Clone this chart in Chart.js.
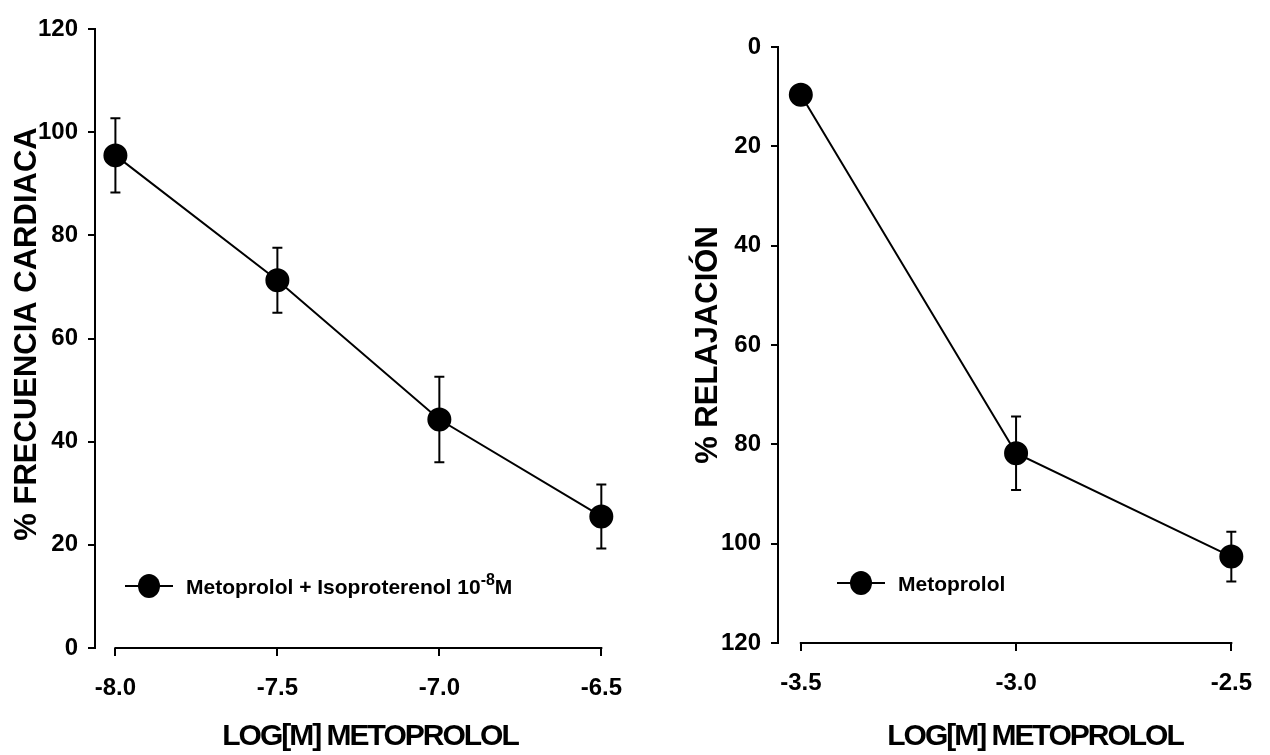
<!DOCTYPE html>
<html>
<head>
<meta charset="utf-8">
<script src="https://cdn.jsdelivr.net/npm/chart.js@4.4.1/dist/chart.umd.min.js"></script>
<style>
  html, body { margin: 0; padding: 0; background: #fff; }
  #wrap { position: relative; width: 1270px; height: 755px; overflow: hidden; }
  #c1 { position: absolute; left: 0; top: 0; }
  #c2 { position: absolute; left: 640px; top: 0; }
</style>
</head>
<body>
<div id="wrap">
  <canvas id="c1" width="640" height="755"></canvas>
  <canvas id="c2" width="630" height="755"></canvas>
</div>
<script>
// left panel: heart rate
var logDoseLeft = [-8.0, -7.5, -7.0, -6.5];
var frecuencia = [95.5, 71.3, 44.3, 25.5];
var frecuenciaSem = [7.2, 6.3, 8.3, 6.2];
var xTicksLeft = [-8.0, -7.5, -7.0, -6.5];
var yTicksLeft = [0, 20, 40, 60, 80, 100, 120];

// right panel: relaxation (reversed axis)
var logDoseRight = [-3.5, -3.0, -2.5];
var relajacion = [9.6, 81.8, 102.6];
var relajacionSem = [0, 7.4, 5.0];
var xTicksRight = [-3.5, -3.0, -2.5];
var yTicksRight = [0, 20, 40, 60, 80, 100, 120];

var FONT = '"Liberation Sans", Arial, sans-serif';

Chart.defaults.font.family = FONT;
Chart.defaults.color = '#000';

// error bars drawn from the sem arrays through the chart scales
var errorBars = {
  id: 'errorBars',
  beforeDatasetsDraw: function(chart) {
    var ctx = chart.ctx;
    var xs = chart.scales.x, ys = chart.scales.y;
    chart.data.datasets.forEach(function(ds) {
      if (!ds.sem) return;
      ctx.save();
      ctx.strokeStyle = '#000';
      ctx.lineWidth = 2;
      ds.data.forEach(function(p, i) {
        var e = ds.sem[i];
        if (!e) return;
        var px = xs.getPixelForValue(p.x);
        var top = ys.getPixelForValue(p.y + e);
        var bot = ys.getPixelForValue(p.y - e);
        ctx.beginPath();
        ctx.moveTo(px, top); ctx.lineTo(px, bot);
        ctx.moveTo(px - 5, top); ctx.lineTo(px + 5, top);
        ctx.moveTo(px - 5, bot); ctx.lineTo(px + 5, bot);
        ctx.stroke();
      });
      ctx.restore();
    });
  }
};

// x axis line only spans first..last tick (detached from y axis)
var xAxisLine = {
  id: 'xAxisLine',
  afterDraw: function(chart) {
    var ctx = chart.ctx, xs = chart.scales.x;
    var t = xs.ticks;
    var y = chart.chartArea.bottom;
    ctx.save();
    ctx.strokeStyle = '#000';
    ctx.lineWidth = 2;
    ctx.beginPath();
    ctx.moveTo(xs.getPixelForValue(t[0].value) - 1, y);
    ctx.lineTo(xs.getPixelForValue(t[t.length - 1].value) + 1, y);
    ctx.stroke();
    ctx.restore();
  }
};

// axis titles and legend box
var decor = {
  id: 'decor',
  afterDraw: function(chart) {
    var o = chart.options.plugins.decor;
    var ctx = chart.ctx;
    ctx.save();
    ctx.fillStyle = '#000';
    ctx.strokeStyle = '#000';

    // x title
    ctx.font = 'bold 30px ' + FONT;
    ctx.letterSpacing = '-2px';
    ctx.textAlign = 'center';
    ctx.textBaseline = 'alphabetic';
    ctx.fillText(o.xTitle, o.xTitleX, 745);

    // y title
    ctx.letterSpacing = '0px';
    ctx.font = 'bold 31px ' + FONT;
    ctx.save();
    ctx.translate(o.yTitleX, o.yTitleY);
    ctx.rotate(-Math.PI / 2);
    ctx.textBaseline = 'middle';
    ctx.fillText(o.yTitle, 0, 0);
    ctx.restore();

    // legend
    var lx = o.legendX, ly = o.legendY;
    ctx.lineWidth = 2;
    ctx.beginPath();
    ctx.moveTo(lx, ly); ctx.lineTo(lx + 48, ly);
    ctx.stroke();
    ctx.beginPath();
    ctx.ellipse(lx + 24, ly, 11, 12, 0, 0, Math.PI * 2);
    ctx.fill();
    ctx.textAlign = 'left';
    ctx.textBaseline = 'alphabetic';
    ctx.font = 'bold 21px ' + FONT;
    var tx = lx + 61;
    ctx.fillText(o.legendText, tx, ly + 8);
    if (o.legendSup) {
      tx += ctx.measureText(o.legendText).width;
      ctx.font = 'bold 16px ' + FONT;
      ctx.fillText(o.legendSup, tx, ly - 1);
      tx += ctx.measureText(o.legendSup).width;
      ctx.font = 'bold 21px ' + FONT;
      ctx.fillText(o.legendTail, tx, ly + 8);
    }
    ctx.restore();
  }
};

function makeChart(id, xs, ys, sem, xTicks, yTicks, cfg) {
  var pts = xs.map(function(x, i) { return { x: x, y: ys[i] }; });
  return new Chart(document.getElementById(id), {
    type: 'line',
    data: {
      datasets: [{
        data: pts,
        sem: sem,
        borderColor: '#000',
        borderWidth: 2,
        backgroundColor: '#000',
        pointBackgroundColor: '#000',
        pointBorderColor: '#000',
        pointRadius: 11,
        pointHoverRadius: 11,
        tension: 0,
        clip: false
      }]
    },
    options: {
      responsive: false,
      animation: false,
      devicePixelRatio: 1,
      layout: { padding: { left: 0, top: cfg.top, right: cfg.right, bottom: 0 } },
      plugins: {
        legend: { display: false },
        tooltip: { enabled: false },
        decor: cfg.decor
      },
      scales: {
        x: {
          type: 'linear',
          min: cfg.xMin,
          max: cfg.xMax,
          afterBuildTicks: function(s) { s.ticks = xTicks.map(function(v) { return { value: v }; }); },
          afterFit: function(s) { s.height = cfg.xHeight; },
          border: { display: false },
          grid: { drawOnChartArea: false, drawTicks: true, tickLength: 8, color: '#000', lineWidth: 2 },
          ticks: {
            padding: 18,
            maxRotation: 0,
            font: { size: 24, weight: 'bold' },
            callback: function(v) { return v.toFixed(1); }
          }
        },
        y: {
          type: 'linear',
          min: 0,
          max: 120,
          reverse: cfg.reverse,
          afterBuildTicks: function(s) { s.ticks = yTicks.map(function(v) { return { value: v }; }); },
          afterFit: function(s) { s.width = cfg.yWidth; },
          border: { display: true, color: '#000', width: 2 },
          grid: { drawOnChartArea: false, drawTicks: true, tickLength: 7, color: '#000', lineWidth: 2 },
          ticks: {
            padding: 10,
            font: { size: 24, weight: 'bold' }
          }
        }
      }
    },
    plugins: [errorBars, xAxisLine, decor]
  });
}

makeChart('c1', logDoseLeft, frecuencia, frecuenciaSem, xTicksLeft, yTicksLeft, {
  top: 29, right: 34, xHeight: 107, yWidth: 95,
  xMin: -8.063, xMax: -6.5, reverse: false,
  decor: {
    xTitle: 'LOG[M] METOPROLOL', xTitleX: 370,
    yTitle: '% FRECUENCIA CARDIACA', yTitleX: 27, yTitleY: 334,
    legendX: 125, legendY: 586,
    legendText: 'Metoprolol + Isoproterenol 10', legendSup: '-8', legendTail: 'M'
  }
});

makeChart('c2', logDoseRight, relajacion, relajacionSem, xTicksRight, yTicksRight, {
  top: 47, right: 27, xHeight: 112, yWidth: 138,
  xMin: -3.553, xMax: -2.5, reverse: true,
  decor: {
    xTitle: 'LOG[M] METOPROLOL', xTitleX: 395,
    yTitle: '% RELAJACIÓN', yTitleX: 68, yTitleY: 345,
    legendX: 197, legendY: 583,
    legendText: 'Metoprolol'
  }
});
</script>
</body>
</html>
